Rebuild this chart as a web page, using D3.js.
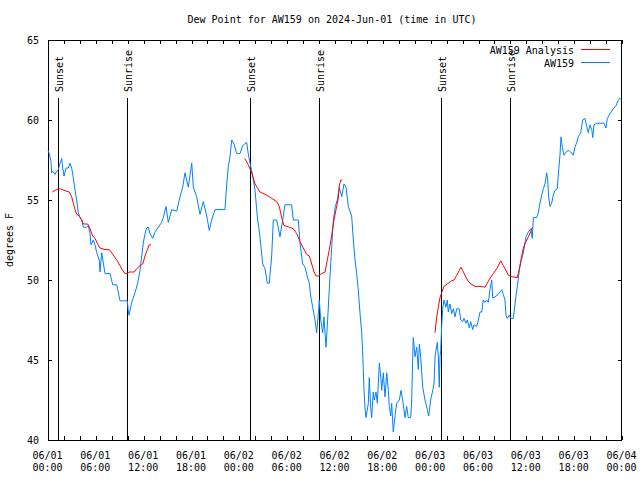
<!DOCTYPE html>
<html>
<head>
<meta charset="utf-8">
<script src="https://cdn.jsdelivr.net/npm/d3@7"></script>
<style>
  html, body { margin: 0; padding: 0; background: #fff; }
  svg { display: block; }
  text { font-family: "DejaVu Sans Mono", "Liberation Mono", monospace; font-size: 10px; fill: #000; }
</style>
</head>
<body>
<div id="chart"></div>
<script>
// ---- data (hours since 2024-06-01 00:00 UTC) ----
const obsHours = [0,0.16,0.38,0.46,0.59,0.88,1.09,1.29,1.51,1.72,1.84,2.01,2.26,2.55,2.76,2.97,3.17,3.39,3.60,3.80,4.01,4.23,4.43,4.85,5.06,5.27,5.39,5.68,5.90,6.11,6.43,6.52,6.74,7.15,7.78,8.12,8.62,8.91,9.03,9.95,10.07,10.16,10.5,10.91,11.25,11.54,11.95,12.17,12.38,12.58,12.79,13.13,13.42,13.84,14.26,14.46,14.80,15.09,15.52,16.14,16.56,16.90,17.18,17.60,18.03,18.23,18.65,19.07,19.48,19.91,20.23,20.53,20.95,21.57,22.20,22.42,22.62,22.83,23.04,23.33,23.67,24.08,24.42,24.92,25.12,25.34,25.68,25.97,26.25,26.59,26.93,27.22,27.51,27.76,28.06,28.26,28.69,29.10,29.44,29.73,30.57,30.77,31.40,31.61,31.95,32.24,32.53,32.78,32.95,33.20,33.49,33.70,33.91,34.03,34.21,34.46,34.62,34.87,35.03,35.21,35.37,35.59,35.79,36.04,36.29,36.54,36.84,37.13,37.38,37.67,38.09,38.30,38.51,38.72,38.92,39.14,39.35,39.47,39.55,39.64,39.76,39.89,40.18,40.30,40.48,40.60,40.80,40.93,41.14,41.31,41.56,41.73,41.86,42.06,42.27,42.49,42.69,42.81,42.99,43.11,43.31,43.53,43.74,44.07,44.28,44.49,44.78,44.99,45.19,45.50,45.62,45.75,45.82,46.04,46.25,46.45,46.58,46.75,47.00,47.29,47.58,47.75,48.00,48.26,48.42,48.55,48.67,48.83,48.96,49.08,49.17,49.26,49.38,49.51,49.67,49.92,50.09,50.21,50.42,50.64,50.84,51.05,51.27,51.59,51.77,52.02,52.18,52.43,52.60,52.85,53.02,53.27,53.43,53.77,53.98,54.19,54.40,54.60,54.81,55.02,55.23,55.44,55.66,55.78,55.94,56.48,56.91,57.11,57.32,57.45,57.61,57.86,58.04,58.37,58.70,58.87,59.12,59.30,59.62,59.96,60.25,60.55,60.75,60.88,61.30,61.50,61.71,61.93,62.13,62.34,62.55,62.68,62.80,62.97,63.18,63.38,63.60,63.88,64.06,64.22,64.35,64.51,64.72,64.98,65.26,65.56,65.89,66.10,66.32,66.52,66.82,67.07,67.36,67.57,67.77,67.99,68.20,68.33,68.49,68.83,69.74,69.99,70.16,70.50,70.91,71.25,71.54,71.75,71.96];
const obsDewpoint = [58.1,57.9,57.4,56.7,56.8,56.6,56.8,56.9,57.3,57.6,57.0,56.5,57.0,57.0,57.3,57.0,56.4,55.6,55.0,54.2,53.9,53.75,53.3,53.3,53.4,52.9,52.2,52.5,52.2,51.7,51.25,50.5,51.7,50.4,50.4,49.7,49.7,49.0,48.7,48.7,48.1,47.8,48.6,49.2,49.8,50.6,52.3,52.9,53.25,53.3,52.9,52.6,53.0,53.3,53.6,53.9,54.6,53.6,54.4,54.3,55.2,55.8,56.7,55.8,57.3,55.8,55.2,54.1,54.9,54.0,53.1,53.75,54.4,54.4,54.4,56.0,57.1,57.7,58.75,58.5,57.9,57.9,58.4,58.6,57.9,57.3,56.5,55.6,54.0,52.7,51.0,50.7,49.8,49.8,51.5,53.75,53.75,52.7,53.75,54.7,54.7,53.75,53.75,52.3,51.0,50.8,50.2,49.8,49.0,48.3,47.5,46.7,47.9,48.75,47.5,46.7,47.7,45.8,47.1,48.75,50.2,52.1,53.75,54.6,55.0,55.8,55.2,56.0,55.8,54.6,54.0,52.5,51.25,50.4,49.4,47.9,46.7,45.5,44.4,43.1,42.0,41.4,42.3,43.9,42.0,41.4,43.0,42.5,43.0,42.3,44.8,44.0,43.1,44.2,42.7,44.2,43.1,42.1,41.5,42.3,40.5,41.5,42.3,42.5,43.1,42.5,41.4,42.1,41.4,41.4,42.5,45.2,46.4,45.2,45.8,44.4,46.0,45.2,43.3,42.5,41.9,41.5,42.5,43.1,43.5,45.2,45.6,46.1,45.2,43.3,45.2,45.6,47.1,48.2,48.75,48.3,48.75,48.0,48.5,47.9,48.2,47.7,48.2,48.2,47.5,47.4,47.6,47.3,47.5,47.0,47.4,46.9,47.2,47.1,47.5,48.0,48.0,48.75,48.6,48.75,48.6,49.4,50.0,48.9,48.9,49.1,49.4,49.1,48.75,47.8,47.6,47.8,47.6,47.6,49.0,49.6,50.6,51.1,51.7,52.7,53.0,53.2,52.6,53.9,53.9,54.2,54.8,55.3,55.7,56.0,56.7,56.25,55.2,54.6,54.8,55.3,55.6,55.7,56.9,57.8,58.95,58.3,57.8,58.0,58.1,58.0,57.8,58.3,58.6,58.95,59.2,60.0,60.1,59.6,59.2,59.7,59.4,58.9,59.7,59.8,59.8,59.5,60.1,60.4,60.7,60.9,61.25,61.35,61.25];

// analysis (null = gap between runs)
const anaHours = [0.54,0.88,1.29,1.59,2.01,2.67,2.97,3.17,3.39,3.60,3.93,4.23,4.43,4.98,5.27,5.61,5.90,6.18,6.52,7.15,7.69,7.99,8.40,8.69,9.03,9.37,9.66,9.95,10.20,10.50,10.83,11.13,11.54,11.88,12.17,12.46,12.71,12.92,
  18,
  24.67,25.12,25.55,25.97,26.59,27.43,28.06,28.69,29.01,29.31,29.60,30.27,30.77,31.20,31.61,32.02,32.45,32.78,33.08,33.37,33.62,33.91,34.33,34.75,35.03,35.29,35.59,35.87,36.13,36.41,36.54,36.72,36.92,
  42,
  48.54,48.76,48.96,49.17,49.38,49.67,50.21,50.64,50.93,51.27,51.59,51.80,52.02,52.30,52.60,52.93,53.56,54.19,54.81,55.10,55.44,55.86,56.28,56.79,57.11,57.45,57.74,58.29,58.87,59.12,59.42,59.62,59.96,60.25,60.55,60.75];
const anaDewpoint = [55.5,55.6,55.7,55.7,55.6,55.5,55.2,54.8,54.4,54.1,54.0,53.75,53.5,53.5,53.2,52.75,52.6,52.3,52.0,51.9,51.9,51.7,51.4,51.2,50.9,50.6,50.4,50.4,50.5,50.5,50.5,50.7,50.9,51.0,51.5,51.9,52.2,52.2,
  null,
  57.6,57.2,56.7,56.0,55.5,55.3,55.1,54.9,54.6,53.9,53.4,53.3,53.2,52.9,52.4,52.0,51.6,51.5,51.0,50.5,50.25,50.25,50.4,50.5,51.25,51.9,52.8,53.75,54.4,55.1,55.9,56.25,56.25,
  null,
  46.7,47.7,48.3,48.9,49.2,49.6,49.8,49.95,50.0,50.3,50.6,50.8,50.6,50.3,50.0,49.8,49.6,49.6,49.55,49.8,50.1,50.4,50.7,51.2,50.9,50.6,50.3,50.2,50.15,50.7,51.5,52.0,52.4,52.7,53.0,53.3];

const sunHours = [1.22, 9.95, 25.3, 33.97, 49.3, 57.97];
const sunLabels = ["Sunset", "Sunrise", "Sunset", "Sunrise", "Sunset", "Sunrise"];
const yTicks = [40, 45, 50, 55, 60, 65];
const seriesNames = ["AW159 Analysis", "AW159"];
const seriesColors = ["#ff0000", "#0080ff"];
const titleText = "Dew Point for AW159 on 2024-Jun-01 (time in UTC)";
const yLabel = "degrees F";

// ---- drawing ----
const W = 640, H = 480;
const L = 48, R = 622, T = 40, B = 440;
const t0 = Date.UTC(2024, 5, 1, 0, 0, 0);
const toDate = h => new Date(t0 + h * 3600000);

const svg = d3.select("#chart").append("svg").attr("width", W).attr("height", H);

const x = d3.scaleUtc().domain([toDate(0), toDate(72)]).range([L, R]);
const y = d3.scaleLinear().domain([40, 65]).range([B, T]);

// title
svg.append("text").attr("x", 332).attr("y", 23).attr("text-anchor", "middle").text(titleText);

// y label
svg.append("text").attr("transform", "translate(13,240) rotate(-90)").attr("text-anchor", "middle").text(yLabel);

// minor ticks bottom/top (every 2h, inward)
const every2 = d3.utcHour.every(2);
const g1 = svg.append("g").attr("transform", `translate(0,${B})`)
  .call(d3.axisBottom(x).ticks(every2).tickSize(-4).tickFormat(""));
const g2 = svg.append("g").attr("transform", `translate(0,${T})`)
  .call(d3.axisTop(x).ticks(every2).tickSize(-4).tickFormat(""));
[g1, g2].forEach(g => { g.select(".domain").remove(); g.selectAll("line").attr("shape-rendering", "crispEdges"); });

// x labels (every 6h)
const fmtD = d3.utcFormat("%m/%d"), fmtT = d3.utcFormat("%H:%M");
const gx = svg.append("g").attr("transform", `translate(0,${B})`)
  .call(d3.axisBottom(x).ticks(d3.utcHour.every(6)).tickSize(0).tickFormat(""));
gx.select(".domain").remove();
gx.selectAll(".tick text").remove();
gx.selectAll(".tick").each(function(d) {
  const t = d3.select(this).append("text").attr("text-anchor", "middle").attr("fill", "#000");
  t.append("tspan").attr("x", -1).attr("y", 18.5).text(fmtD(d));
  t.append("tspan").attr("x", -1).attr("y", 30.5).text(fmtT(d));
});

// y axes
const gy = svg.append("g").attr("transform", `translate(${L},0)`)
  .call(d3.axisLeft(y).tickValues(yTicks).tickSize(-4).tickPadding(9).tickFormat(d3.format("d")));
gy.select(".domain").remove();
gy.selectAll("text").attr("dy", "0.35em");
const gyr = svg.append("g").attr("transform", `translate(${R},0)`)
  .call(d3.axisRight(y).tickValues(yTicks).tickSize(-4).tickFormat(""));
gyr.select(".domain").remove();
[gy, gyr].forEach(g => g.selectAll("line").attr("shape-rendering", "crispEdges"));
[g1, g2, gx, gy, gyr].forEach(g => g.attr("font-family", null).attr("font-size", null));

// border
svg.append("rect").attr("x", L + 0.5).attr("y", T + 0.5).attr("width", R - L - 1).attr("height", B - T)
  .attr("fill", "none").attr("stroke", "#000").attr("shape-rendering", "crispEdges");

// sunrise / sunset lines
const sg = svg.append("g");
sunHours.forEach((h, i) => {
  const xp = Math.round(x(toDate(h))) + 0.5;
  sg.append("line").attr("x1", xp).attr("x2", xp).attr("y1", 98).attr("y2", B)
    .attr("stroke", "#000").attr("stroke-width", 1).attr("shape-rendering", "crispEdges");
  sg.append("text").attr("transform", `translate(${xp + 4},92) rotate(-90)`)
    .attr("text-anchor", "start").text(sunLabels[i]);
});

// lines
const line = d3.line().defined(d => d[1] !== null).x(d => x(toDate(d[0]))).y(d => y(d[1]));
const obs = obsHours.map((h, i) => [h, obsDewpoint[i]]);
const ana = anaHours.map((h, i) => [h, anaDewpoint[i]]);
svg.append("path").datum(obs).attr("d", line).attr("fill", "none").attr("stroke", seriesColors[1]).attr("stroke-width", 1);
svg.append("path").datum(ana).attr("d", line).attr("fill", "none").attr("stroke", seriesColors[0]).attr("stroke-width", 1);

// legend
seriesNames.forEach((n, i) => {
  const yy = 50 + i * 13;
  svg.append("text").attr("x", 574).attr("y", yy).attr("dy", "0.35em").attr("text-anchor", "end").text(n);
  svg.append("line").attr("x1", 581).attr("x2", 610).attr("y1", yy - 0.5).attr("y2", yy - 0.5)
    .attr("stroke", seriesColors[i]).attr("stroke-width", 1).attr("shape-rendering", "crispEdges");
});
</script>
</body>
</html>
